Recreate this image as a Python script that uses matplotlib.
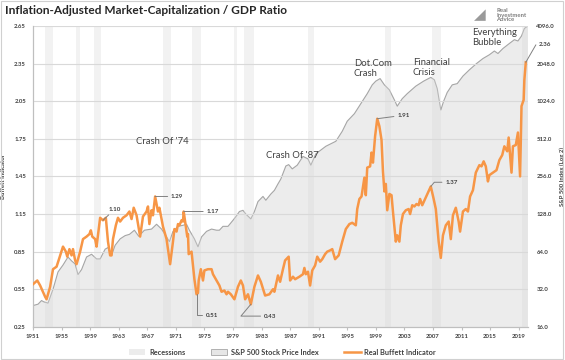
import numpy as np
import matplotlib
matplotlib.use("Agg")
from matplotlib import pyplot as plt
from matplotlib.patches import Patch, Rectangle
from matplotlib.lines import Line2D
from matplotlib.ticker import FixedLocator, FuncFormatter

plt.rcParams['font.family'] = ['Lato', 'DejaVu Sans']

# Real Buffett indicator (chart years, ratio)
buffett_years = [1951.0, 1951.6, 1952.0, 1952.7, 1952.9, 1953.4, 1953.8, 1954.3, 1954.8, 1955.2,
                 1955.6, 1955.8, 1956.1, 1956.4, 1956.6, 1956.9, 1957.1, 1957.6, 1958.0, 1958.5,
                 1958.9, 1959.1, 1959.3, 1959.7, 1959.9, 1960.1, 1960.4, 1960.8, 1961.2, 1961.5,
                 1961.8, 1962.0, 1962.2, 1962.6, 1962.9, 1963.2, 1963.6, 1964.1, 1964.5, 1964.8,
                 1965.1, 1965.5, 1966.0, 1966.4, 1966.9, 1967.1, 1967.3, 1967.6, 1967.8, 1968.1,
                 1968.5, 1968.7, 1969.2, 1969.7, 1969.9, 1970.2, 1970.6, 1970.8, 1971.1, 1971.3,
                 1971.5, 1971.8, 1972.0, 1972.1, 1972.3, 1972.6, 1972.7, 1972.8, 1973.2, 1973.4,
                 1973.6, 1973.9, 1974.1, 1974.2, 1974.5, 1974.8, 1975.0, 1975.5, 1976.0, 1976.2,
                 1976.7, 1977.1, 1977.4, 1977.8, 1978.1, 1978.3, 1978.7, 1979.2, 1979.7, 1980.1,
                 1980.4, 1980.7, 1981.1, 1981.5, 1982.0, 1982.5, 1982.9, 1983.5, 1984.1, 1984.6,
                 1984.8, 1985.3, 1985.6, 1986.0, 1986.3, 1986.8, 1987.0, 1987.4, 1987.7, 1988.3,
                 1988.8, 1989.0, 1989.2, 1989.5, 1989.8, 1990.1, 1990.5, 1990.8, 1991.2, 1991.5,
                 1991.9, 1992.2, 1992.6, 1992.9, 1993.3, 1993.8, 1994.3, 1994.8, 1995.3, 1995.7,
                 1996.2, 1996.4, 1996.7, 1997.0, 1997.4, 1997.6, 1997.8, 1998.2, 1998.4, 1998.6,
                 1998.9, 1999.2, 1999.5, 1999.8, 2000.0, 2000.2, 2000.4, 2000.6, 2000.9, 2001.2,
                 2001.4, 2001.8, 2002.0, 2002.3, 2002.5, 2002.8, 2003.2, 2003.6, 2003.8, 2004.1,
                 2004.4, 2004.7, 2005.0, 2005.2, 2005.5, 2005.9, 2006.3, 2006.7, 2007.1, 2007.4,
                 2007.6, 2007.8, 2008.1, 2008.4, 2008.8, 2009.2, 2009.5, 2009.8, 2010.2, 2010.6,
                 2010.8, 2011.2, 2011.6, 2011.9, 2012.2, 2012.6, 2013.0, 2013.5, 2013.8, 2014.1,
                 2014.4, 2014.7, 2014.9, 2015.4, 2015.9, 2016.3, 2016.7, 2017.0, 2017.4, 2017.6,
                 2018.0, 2018.2, 2018.6, 2018.9, 2019.2, 2019.4, 2019.7, 2019.8, 2020.0]
buffett_values = [0.59, 0.62, 0.58, 0.49, 0.47, 0.57, 0.71, 0.73, 0.82, 0.89,
                  0.85, 0.81, 0.87, 0.82, 0.87, 0.78, 0.75, 0.85, 0.95, 0.97,
                  0.99, 1.02, 0.97, 0.95, 0.89, 0.98, 1.12, 1.10, 1.12, 0.93,
                  0.82, 0.82, 0.95, 1.06, 1.12, 1.09, 1.12, 1.14, 1.17, 1.11,
                  1.20, 1.14, 0.97, 1.13, 1.17, 1.21, 1.07, 1.18, 1.14, 1.29,
                  1.17, 1.20, 1.05, 0.95, 0.87, 0.75, 0.93, 1.03, 1.01, 1.07,
                  1.06, 1.10, 1.09, 1.17, 1.09, 0.97, 0.99, 0.83, 0.85, 0.74,
                  0.63, 0.51, 0.52, 0.62, 0.71, 0.62, 0.70, 0.71, 0.71, 0.67,
                  0.62, 0.58, 0.53, 0.54, 0.51, 0.53, 0.51, 0.47, 0.57, 0.62,
                  0.58, 0.47, 0.51, 0.43, 0.57, 0.66, 0.61, 0.50, 0.51, 0.55,
                  0.53, 0.66, 0.61, 0.71, 0.78, 0.81, 0.62, 0.65, 0.63, 0.65,
                  0.67, 0.72, 0.67, 0.69, 0.58, 0.70, 0.74, 0.81, 0.77, 0.79,
                  0.83, 0.85, 0.86, 0.87, 0.79, 0.82, 0.93, 1.03, 1.07, 1.08,
                  1.06, 1.19, 1.27, 1.29, 1.44, 1.30, 1.52, 1.53, 1.64, 1.56,
                  1.77, 1.91, 1.85, 1.74, 1.49, 1.33, 1.39, 1.18, 1.31, 1.30,
                  1.17, 0.93, 0.98, 0.93, 1.06, 1.15, 1.18, 1.19, 1.15, 1.22,
                  1.21, 1.23, 1.22, 1.27, 1.22, 1.27, 1.32, 1.37, 1.27, 1.19,
                  1.06, 0.93, 0.80, 0.98, 1.06, 1.09, 0.95, 1.14, 1.20, 1.09,
                  1.01, 1.17, 1.19, 1.17, 1.29, 1.34, 1.48, 1.54, 1.53, 1.57,
                  1.53, 1.41, 1.46, 1.48, 1.50, 1.58, 1.62, 1.69, 1.65, 1.76,
                  1.48, 1.69, 1.70, 1.80, 1.45, 2.01, 2.06, 2.22, 2.36]

# S&P 500 stock price index (chart years, index level)
sp_years = [1951.0, 1951.7, 1952.2, 1952.5, 1953.1, 1953.8, 1954.5, 1955.2, 1955.9, 1956.4,
            1956.9, 1957.3, 1957.8, 1958.5, 1959.2, 1959.9, 1960.4, 1961.1, 1961.5, 1962.0,
            1962.5, 1963.2, 1963.9, 1964.5, 1965.2, 1965.8, 1966.6, 1967.6, 1968.3, 1969.0,
            1969.7, 1970.1, 1970.6, 1971.3, 1972.0, 1972.5, 1972.9, 1973.6, 1974.1, 1974.6,
            1975.3, 1976.0, 1976.7, 1977.1, 1977.6, 1978.3, 1979.0, 1979.4, 1979.9, 1980.4,
            1980.8, 1981.5, 1982.0, 1982.5, 1983.2, 1983.6, 1984.3, 1984.8, 1985.3, 1985.7,
            1986.4, 1986.8, 1987.3, 1988.0, 1988.8, 1989.5, 1989.9, 1990.6, 1992.0, 1993.4,
            1994.3, 1995.0, 1996.0, 1996.9, 1997.8, 1998.5, 1999.0, 1999.6, 2000.2, 2000.9,
            2001.6, 2002.0, 2002.7, 2003.4, 2004.6, 2005.7, 2006.7, 2007.2, 2007.6, 2008.1,
            2008.5, 2009.0, 2009.7, 2010.4, 2011.2, 2012.1, 2013.1, 2014.0, 2014.9, 2015.6,
            2016.1, 2016.8, 2017.7, 2018.4, 2018.9, 2019.4, 2019.8, 2020.3]
sp_values = [23.7, 24.3, 26.0, 25.4, 24.8, 32.0, 44.0, 50.0, 58.0, 54.0,
             51.0, 42.0, 46.0, 58.0, 61.0, 56.0, 56.0, 67.0, 69.0, 60.0,
             72.0, 81.0, 86.0, 88.0, 95.0, 85.0, 95.0, 97.0, 106.0, 97.0,
             84.0, 77.0, 93.0, 102.0, 104.0, 106.0, 95.0, 81.0, 70.0, 84.0,
             93.0, 97.0, 95.0, 95.0, 102.0, 102.0, 114.0, 122.0, 134.0, 137.0,
             128.0, 117.0, 134.0, 161.0, 177.0, 165.0, 185.0, 198.0, 223.0, 244.0,
             310.0, 318.0, 294.0, 315.0, 370.0, 354.0, 315.0, 388.0, 446.0, 489.0,
             588.0, 708.0, 813.0, 978.0, 1176.0, 1383.0, 1482.0, 1552.0, 1383.0, 1261.0,
             1048.0, 934.0, 1072.0, 1176.0, 1351.0, 1482.0, 1588.0, 1517.0, 1290.0, 871.0,
             1024.0, 1204.0, 1383.0, 1415.0, 1626.0, 1824.0, 2048.0, 2246.0, 2408.0, 2580.0,
             2464.0, 2702.0, 2964.0, 3177.0, 3104.0, 3405.0, 3910.0, 4096.0]

# recession bands (chart years)
recession_starts = [1952.7, 1957.0, 1959.5, 1969.2, 1973.2, 1979.2, 1980.6, 1989.5, 2000.3, 2006.9, 2019.4]
recession_ends = [1953.8, 1957.6, 1960.5, 1970.3, 1974.5, 1979.6, 1982.0, 1990.4, 2001.1, 2008.1, 2020.3]

left_ticks = [0.25, 0.55, 0.85, 1.15, 1.45, 1.75, 2.05, 2.35, 2.65]
right_ticks = [16, 32, 64, 128, 256, 512, 1024, 2048, 4096]
year_ticks = list(range(1951, 2020, 4))

callout_years = [1960.8, 1968.1, 1972.1, 1973.9, 1981.5, 1999.2, 2006.7, 2020.0]
callout_values = [1.10, 1.29, 1.17, 0.51, 0.43, 1.91, 1.37, 2.36]

events = ["Crash Of '74", "Crash Of '87", "Dot.Com\nCrash", "Financial\nCrisis", "Everything\nBubble"]

ORANGE = '#F79646'
TXT = '#404040'

fig = plt.figure(figsize=(5.65, 3.6), dpi=100)
ax2 = fig.add_axes([0.0584, 0.092, 0.876, 0.836])
ax = ax2.twinx()
ax.set_zorder(ax2.get_zorder() + 1)
ax.patch.set_visible(False)

# S&P area on log2 axis (drawn underneath)
ax2.fill_between(sp_years, sp_values, 1, color='#ececec', lw=0)
ax2.plot(sp_years, sp_values, color='#a6a6a6', lw=0.8)
ax2.set_yscale('log', base=2)
ax2.set_ylim(16, 4096)
ax2.set_xlim(1951, 2020.3)

# left axis: ratio
ax.set_ylim(0.25, 2.65)
for s, e in zip(recession_starts, recession_ends):
    ax.axvspan(s, e, color='#d9d9d9', alpha=0.33, lw=0, zorder=0)
for t in left_ticks[1:]:
    ax.axhline(t, color='#d9d9d9', lw=0.8, zorder=1)
ax.plot(buffett_years, buffett_values, color=ORANGE, lw=1.8, zorder=3)

# ticks: ax is twin (right side), so move ratio ticks to the left, S&P to the right
ax.yaxis.tick_left()
ax.yaxis.set_label_position('left')
ax2.yaxis.tick_right()
ax2.yaxis.set_label_position('right')
ax.yaxis.set_major_locator(FixedLocator(left_ticks))
ax.yaxis.set_major_formatter(FuncFormatter(lambda v, p: f'{v:.2f}'))
ax2.yaxis.set_major_locator(FixedLocator(right_ticks))
ax2.yaxis.set_minor_locator(FixedLocator([]))
ax2.yaxis.set_major_formatter(FuncFormatter(lambda v, p: f'{v:.1f}'))
ax2.set_xticks(year_ticks)

tick_font = dict(fontsize=4.3, fontweight='bold', color=TXT)
for lab in ax.get_yticklabels() + ax2.get_yticklabels() + ax2.get_xticklabels():
    lab.set(**tick_font)
ax.tick_params(axis='y', length=0, pad=5)
ax2.tick_params(axis='y', length=0, pad=6)
ax2.tick_params(axis='x', length=2, color='#bfbfbf', pad=3)
ax.tick_params(axis='x', length=0, labelbottom=False)

for a in (ax, ax2):
    for side in ('top', 'right'):
        a.spines[side].set_visible(False)
    a.spines['left'].set_color('#bfbfbf')
    a.spines['bottom'].set_color('#bfbfbf')
    a.spines['left'].set_linewidth(0.8)
    a.spines['bottom'].set_linewidth(0.8)

ax.set_ylabel('Buffett Indicator', fontsize=4.3, fontweight='bold', color=TXT, labelpad=6)
ax2.set_ylabel('S&P 500 Index (Log 2)', fontsize=4.3, fontweight='bold', color=TXT, labelpad=3)

# callouts
offsets = [(4, 8), (11.5, 0), (16.5, 0), (6.5, -15), (9.5, -8.5), (14.5, 2.5), (10.5, 3), (9.5, 13)]
styles = ['arc3', 'arc3', 'arc3', 'angle,angleA=0,angleB=90,rad=0', 'angle,angleA=0,angleB=50,rad=0',
          'arc3', 'angle,angleA=0,angleB=50,rad=0', 'angle,angleA=0,angleB=60,rad=0']
for yr, val, off, st in zip(callout_years, callout_values, offsets, styles):
    ax.annotate(f'{val:.2f}', xy=(yr, val), xytext=off, textcoords='offset points',
                fontsize=4.5, fontweight='bold', color=TXT, ha='left', va='center',
                annotation_clip=False, zorder=5,
                arrowprops=dict(arrowstyle='-', color='#808080', lw=0.7,
                                connectionstyle=st, shrinkA=0.5, shrinkB=0))

# event labels
event_pos = [(1965.4, 1.73), (1983.6, 1.62), (1995.9, 2.31), (2004.2, 2.32), (2012.5, 2.56)]
for txt, (x, y) in zip(events, event_pos):
    ax.text(x, y, txt, fontsize=6.8, color=TXT, ha='left', va='center', linespacing=1.15, zorder=5)

fig.text(0.008, 0.972, 'Inflation-Adjusted Market-Capitalization / GDP Ratio',
         fontsize=8.6, fontweight='bold', color='#262626', ha='left', va='center')
fig.text(0.878, 0.958, 'Real\nInvestment\nAdvice', fontsize=4.3, fontweight='bold',
         color='#7f7f7f', ha='left', va='center', linespacing=0.9)
fig.text(0.838, 0.958, '\u25e2', fontsize=11, color='#9a9a9a', ha='left', va='center')

handles = [Patch(facecolor='#ececec', edgecolor='none'),
           Patch(facecolor='#e6e6e6', edgecolor='#a6a6a6', lw=0.6),
           Line2D([0], [0], color=ORANGE, lw=1.8)]
labels = ['Recessions', 'S&P 500 Stock Price Index', 'Real Buffett Indicator']
fig.legend(handles, labels, loc='center', bbox_to_anchor=(0.5, 0.022), ncol=3, frameon=False,
           prop=dict(size=5.3, weight='bold'), labelcolor=TXT, handlelength=2.2,
           handleheight=0.9, columnspacing=3.5, handletextpad=0.5)

fig.patches.append(Rectangle((0.002, 0.003), 0.995, 0.994, transform=fig.transFigure,
                             fill=False, edgecolor='#d0d0d0', lw=0.8))

fig.savefig('out.png', dpi=100)
